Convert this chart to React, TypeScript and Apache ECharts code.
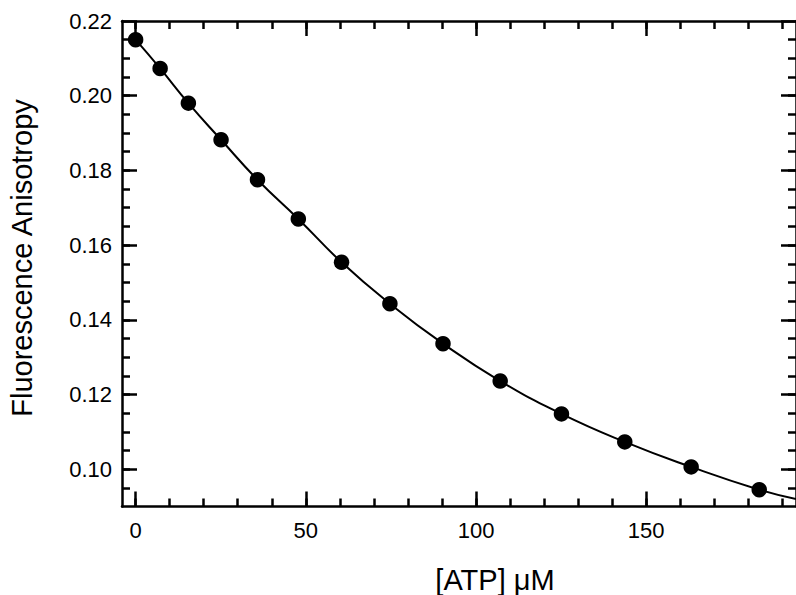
import React, { useEffect, useRef } from "react";
import * as echarts from "echarts";

// [ATP] (µM) and fluorescence anisotropy
const atp = [0, 7.2, 15.5, 25.1, 35.8, 47.8, 60.5, 74.7, 90.3, 107.1, 125.1, 143.7, 163.2, 183.2];
const anisotropy = [0.215, 0.2073, 0.198, 0.1882, 0.1775, 0.167, 0.1554, 0.1443, 0.1336, 0.1236, 0.1148, 0.1073, 0.1006, 0.0945];
// fitted curve continues past the last point to the right edge
const fitTailX = [194];
const fitTailY = [0.092];

const xMajorTicks = [0, 50, 100, 150];
const xMinorTicks = [0, 10, 20, 30, 40, 50, 60, 70, 80, 90, 100, 110, 120, 130, 140, 150, 160, 170, 180, 190];
const yMajorTicks = [0.1, 0.12, 0.14, 0.16, 0.18, 0.2, 0.22];
const yMinorTicks = [0.095, 0.1, 0.105, 0.11, 0.115, 0.12, 0.125, 0.13, 0.135, 0.14, 0.145, 0.15, 0.155, 0.16, 0.165, 0.17, 0.175, 0.18, 0.185, 0.19, 0.195, 0.2, 0.205, 0.21, 0.215];

const xTitle = "[ATP] μM";
const yTitle = "Fluorescence Anisotropy";

const FONT = "'Liberation Sans', Arial, Helvetica, sans-serif";
const LW = 2.5;

export default function App() {
  const ref = useRef<HTMLDivElement>(null);
  useEffect(() => {
    if (!ref.current) return;
    const chart = echarts.init(ref.current, null, { renderer: "svg" });
    const xMin = -4, xMax = 194, yMin = 0.09, yMax = 0.22;

    const mkX = (pos: "bottom" | "top", major: boolean, labels: boolean) => ({
      type: "value",
      position: pos,
      min: xMin,
      max: xMax,
      splitLine: { show: false },
      axisLine: { show: major, onZero: false, lineStyle: { color: "#000", width: LW } },
      axisTick: {
        show: true,
        inside: true,
        length: major ? 15 : 8,
        customValues: major ? xMajorTicks : xMinorTicks,
        lineStyle: { color: "#000", width: LW },
      },
      axisLabel: labels
        ? { show: true, customValues: xMajorTicks, fontFamily: FONT, fontSize: 22, color: "#000", margin: 13 }
        : { show: false },
    });
    const mkY = (pos: "left" | "right", major: boolean, labels: boolean) => ({
      type: "value",
      position: pos,
      min: yMin,
      max: yMax,
      splitLine: { show: false },
      axisLine: { show: major, onZero: false, lineStyle: { color: "#000", width: LW } },
      axisTick: {
        show: true,
        inside: true,
        length: major ? 15 : 8,
        customValues: major ? yMajorTicks : yMinorTicks,
        lineStyle: { color: "#000", width: LW },
      },
      axisLabel: labels
        ? {
            show: true,
            customValues: yMajorTicks,
            fontFamily: FONT,
            fontSize: 22,
            color: "#000",
            margin: 10,
            formatter: (v: number) => v.toFixed(2),
          }
        : { show: false },
    });

    const fitData = atp.map((x, i) => [x, anisotropy[i]]).concat(fitTailX.map((x, i) => [x, fitTailY[i]]));

    chart.setOption({
      animation: false,
      backgroundColor: "#fff",
      grid: { left: 122, top: 21, width: 679, height: 485.5, containLabel: false },
      xAxis: [mkX("bottom", true, true), mkX("bottom", false, false), mkX("top", true, false), mkX("top", false, false)],
      yAxis: [mkY("left", true, true), mkY("left", false, false), mkY("right", true, false), mkY("right", false, false)],
      graphic: [
        {
          type: "text",
          x: 495,
          y: 580,
          style: { text: xTitle, fontFamily: FONT, fontSize: 29, fill: "#000", align: "center", verticalAlign: "middle" },
        },
        {
          type: "text",
          x: 22,
          y: 258,
          rotation: Math.PI / 2,
          style: { text: yTitle, fontFamily: FONT, fontSize: 29, fill: "#000", align: "center", verticalAlign: "middle" },
        },
      ],
      series: [
        {
          type: "line",
          data: fitData,
          smooth: true,
          showSymbol: false,
          symbol: "none",
          lineStyle: { color: "#000", width: 2 },
          clip: true,
          z: 2,
        },
        {
          type: "scatter",
          data: atp.map((x, i) => [x, anisotropy[i]]),
          symbol: "circle",
          symbolSize: 15.5,
          itemStyle: { color: "#000", opacity: 1 },
          z: 3,
        },
      ],
    });
    return () => chart.dispose();
  }, []);
  return <div ref={ref} style={{ width: 796, height: 595, position: "absolute", left: 0, top: 0 }} />;
}
